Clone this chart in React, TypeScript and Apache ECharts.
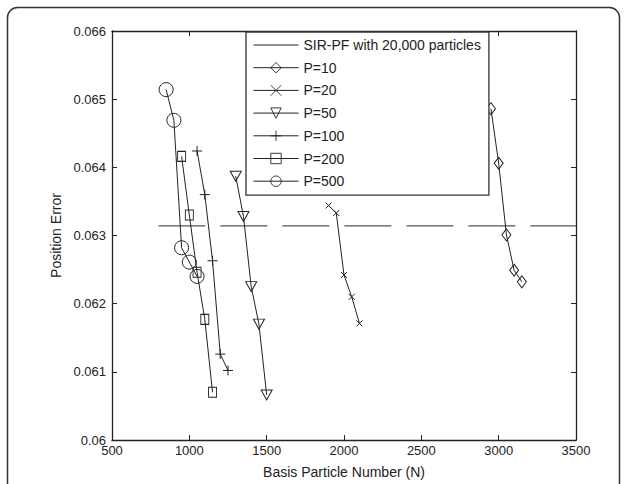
import React, { useEffect, useRef } from "react";
import * as echarts from "echarts";

const xTicks = [500, 1000, 1500, 2000, 2500, 3000, 3500];
const yTicks = [0.06, 0.061, 0.062, 0.063, 0.064, 0.065, 0.066];

const sirX = [800, 3500];
const sirY = [0.06314, 0.06314];

const p10X = [2950, 3000, 3050, 3100, 3150];
const p10Y = [0.06486, 0.06406, 0.06301, 0.06249, 0.06232];

const p20X = [1900, 1950, 2000, 2050, 2100];
const p20Y = [0.06344, 0.06333, 0.06242, 0.0621, 0.06171];

const p50X = [1300, 1350, 1400, 1450, 1500];
const p50Y = [0.06387, 0.06328, 0.06225, 0.0617, 0.06066];

const p100X = [1050, 1100, 1150, 1200, 1250];
const p100Y = [0.06424, 0.0636, 0.06263, 0.06126, 0.06102];

const p200X = [950, 1000, 1050, 1100, 1150];
const p200Y = [0.06416, 0.0633, 0.06246, 0.06177, 0.0607];

const p500X = [850, 900, 950, 1000, 1050];
const p500Y = [0.06514, 0.06469, 0.06282, 0.06261, 0.0624];

const names = ["SIR-PF with 20,000 particles", "P=10", "P=20", "P=50", "P=100", "P=200", "P=500"];

const FONT = "'Liberation Sans', Arial, sans-serif";
const INK = "#222";

function zip(xs: number[], ys: number[]) {
  return xs.map((x, i) => [x, ys[i]]);
}

export default function App() {
  const ref = useRef<HTMLDivElement>(null);
  useEffect(() => {
    if (!ref.current) return;
    const chart = echarts.init(ref.current, undefined, { renderer: "svg" });
    const markerStyle = { color: "rgba(0,0,0,0)", borderColor: INK, borderWidth: 1 };
    const mk = (name: string, xs: number[], ys: number[], symbol: string, size: any) => ({
      name,
      type: "line",
      data: zip(xs, ys),
      symbol,
      symbolSize: size,
      showSymbol: true,
      lineStyle: { color: INK, width: 1 },
      itemStyle: markerStyle,
      emphasis: { disabled: true },
      z: 3,
    });
    const axisLine = { show: true, lineStyle: { color: INK, width: 1.3 } };
    chart.setOption({
      animation: false,
      backgroundColor: "#fff",
      textStyle: { fontFamily: FONT },
      grid: { left: 112, right: 49, top: 31, bottom: 42, containLabel: false },
      graphic: [
        {
          type: "rect",
          shape: { x: 7.5, y: 7.5, width: 612, height: 500, r: 10 },
          style: { fill: "none", stroke: "#333", lineWidth: 1.5 },
          silent: true,
          z: 100,
        },
      ],
      legend: {
        orient: "vertical",
        left: 246,
        top: 32,
        width: 238,
        padding: [6, 8, 7, 7],
        itemWidth: 45,
        itemHeight: 13,
        itemGap: 8.7,
        backgroundColor: "#fff",
        borderColor: "#333",
        borderWidth: 1.3,
        borderRadius: 0,
        lineStyle: { width: 1, color: INK },
        itemStyle: { borderWidth: 0.9 },
        textStyle: { fontFamily: FONT, fontSize: 14, color: INK },
        data: [
          {
            name: names[0],
            icon: "path://M0,0 L45,0 L45,1 L0,1 Z",
            itemStyle: { color: INK, borderWidth: 0 },
          },
          ...names.slice(1),
        ],
      },
      xAxis: [
        {
          type: "value",
          min: 500,
          max: 3500,
          interval: 500,
          name: "Basis Particle Number (N)",
          nameLocation: "middle",
          nameGap: 25,
          nameTextStyle: { fontFamily: FONT, fontSize: 14, color: INK },
          axisLine,
          axisTick: { show: true, inside: true, length: 5, lineStyle: { color: INK } },
          axisLabel: {
            fontFamily: FONT,
            fontSize: 13,
            color: INK,
            margin: 4,
            formatter: (v: number) => {
              const t = xTicks.find((x) => Math.abs(x - v) < 1e-6);
              return String(t ?? v);
            },
          },
          splitLine: { show: false },
        },
        {
          type: "value",
          position: "top",
          min: 500,
          max: 3500,
          interval: 500,
          axisLine,
          axisTick: { show: true, inside: true, length: 5, lineStyle: { color: INK } },
          axisLabel: { show: false },
          splitLine: { show: false },
        },
      ],
      yAxis: [
        {
          type: "value",
          min: 0.06,
          max: 0.066,
          interval: 0.001,
          name: "Position Error",
          nameLocation: "middle",
          nameGap: 46,
          nameTextStyle: { fontFamily: FONT, fontSize: 14, color: INK },
          axisLine,
          axisTick: { show: true, inside: true, length: 5, lineStyle: { color: INK } },
          axisLabel: {
            fontFamily: FONT,
            fontSize: 13,
            color: INK,
            margin: 6,
            formatter: (v: number) => {
              const t = yTicks.find((y) => Math.abs(y - v) < 1e-9);
              return String(parseFloat((t ?? v).toFixed(3)));
            },
          },
          splitLine: { show: false },
        },
        {
          type: "value",
          position: "right",
          min: 0.06,
          max: 0.066,
          interval: 0.001,
          axisLine,
          axisTick: { show: true, inside: true, length: 5, lineStyle: { color: INK } },
          axisLabel: { show: false },
          splitLine: { show: false },
        },
      ],
      series: [
        {
          name: names[0],
          type: "line",
          data: zip(sirX, sirY),
          symbol: "none",
          lineStyle: { color: "#555", width: 1.3, type: [47, 15] },
          itemStyle: { color: "#555" },
          emphasis: { disabled: true },
          z: 2,
        },
        mk(names[1], p10X, p10Y, "diamond", [9, 12]),
        mk(names[2], p20X, p20Y, "path://M0,0 L10,10 M10,0 L0,10", [6, 6]),
        mk(names[3], p50X, p50Y, "path://M0,0 L10,0 L5,10 Z", [11, 10]),
        mk(names[4], p100X, p100Y, "path://M5,0 L5,10 M0,5 L10,5", [10, 10]),
        mk(names[5], p200X, p200Y, "rect", [8, 10]),
        mk(names[6], p500X, p500Y, "circle", [14, 14]),
      ],
    });
    return () => chart.dispose();
  }, []);
  return (
    <div
      ref={ref}
      style={{ position: "fixed", left: 0, top: 0, width: 625, height: 484 }}
    />
  );
}
